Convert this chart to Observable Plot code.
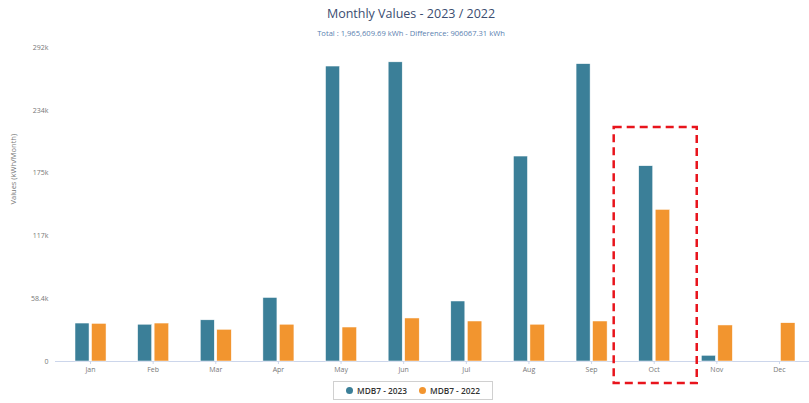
<!DOCTYPE html>
<html>
<head>
<meta charset="utf-8">
<script src="https://cdn.jsdelivr.net/npm/d3@7"></script>
<script src="https://cdn.jsdelivr.net/npm/@observablehq/plot@0.6"></script>
<style>
  body { margin: 0; background: #fff; font-family: "Open Sans", sans-serif; }
  #wrap { position: relative; width: 809px; height: 403px; overflow: hidden; }
  #title { position: absolute; top: 5px; left: 0; width: 809px; padding-left: 13px; box-sizing: border-box; text-align: center; font-size: 12.5px; color: #3b4d70; }
  #subtitle { position: absolute; top: 28px; left: 0; width: 809px; padding-left: 13px; box-sizing: border-box; text-align: center; font-size: 7.6px; color: #5b7fb0; }
  #chart { position: absolute; top: 40px; left: 0; }
  #legend { position: absolute; top: 381px; left: 333px; width: 158px; height: 17px; border: 1px solid #d0d0d0; display: flex; align-items: center; justify-content: center; gap: 12px; font-size: 8.3px; font-weight: 600; color: #333; background: #fff; }
  .item { display: flex; align-items: center; gap: 4px; }
  .dot { width: 7px; height: 7px; border-radius: 50%; display: inline-block; }
</style>
</head>
<body>
<div id="wrap">
  <div id="title">Monthly Values - 2023 / 2022</div>
  <div id="subtitle">Total : 1,965,609.69 kWh - Difference: 906067.31 kWh</div>
  <div id="chart"></div>
  <div id="legend"></div>
</div>
<script>
const months = ["Jan","Feb","Mar","Apr","May","Jun","Jul","Aug","Sep","Oct","Nov","Dec"];
const series = ["MDB7 - 2023", "MDB7 - 2022"];
const values2023 = [35300, 34200, 38300, 59100, 274300, 278200, 55800, 190600, 276500, 181600, 5300, 0];
const values2022 = [35000, 35300, 29500, 34200, 31600, 40000, 37200, 34200, 37200, 141000, 33500, 35600];
const yTicks = [0, 58400, 116800, 175200, 233600, 292000];
const yTickLabels = ["0", "58.4k", "117k", "175k", "234k", "292k"];
const highlightMonth = ["Oct"];
const highlightRange = [-20500, 217600];
const colors = ["#3b7f98", "#f2952f"];

const data2023 = months.map((m, i) => ({month: m, value: values2023[i]}));
const data2022 = months.map((m, i) => ({month: m, value: values2022[i]}));
const highlight = highlightMonth.map(m => ({month: m, y1: highlightRange[0], y2: highlightRange[1]}));

const chart = Plot.plot({
  width: 809,
  height: 345,
  marginTop: 7,
  marginBottom: 24,
  marginLeft: 55,
  marginRight: 0,
  style: {fontFamily: "Open Sans, sans-serif", fontSize: "7px", color: "#666", background: "transparent", overflow: "visible"},
  x: {domain: months, range: [58.7, 810.3], padding: 0, round: false, label: null},
  y: {domain: [0, 292000], label: null},
  marks: [
    Plot.gridY(yTicks, {stroke: "#e6e6e6", strokeOpacity: 1, x1: 55, x2: 809}),
    Plot.axisY(yTicks, {tickSize: 0, tickPadding: 7, tickFormat: (d) => yTickLabels[yTicks.indexOf(d)], fill: "#777", fontSize: 7, label: null}),
    Plot.text(["Values (kWh/Month)"], {frameAnchor: "left", dx: -42, rotate: -90, fill: "#777", fontSize: 7.5}),
    Plot.axisX({tickSize: 3, tickPadding: 3, stroke: "#ccd6eb", fill: "#777", fontSize: 7, label: null}),
    Plot.ruleY([0], {stroke: "#ccd6eb"}),
    Plot.barY(data2023, {x: "month", y: "value", fill: colors[0], stroke: "#fff", strokeWidth: 0.5, insetLeft: 16.3, insetRight: 32.3}),
    Plot.barY(data2022, {x: "month", y: "value", fill: colors[1], stroke: "#fff", strokeWidth: 0.5, insetLeft: 32.8, insetRight: 15.3}),
    Plot.barY(highlight, {x: "month", y1: "y1", y2: "y2", fill: "none", stroke: "#e8141c", strokeWidth: 2.5, strokeDasharray: "8,5", insetLeft: -8.7, insetRight: -11.7})
  ]
});
document.getElementById("chart").appendChild(chart);

const legend = document.getElementById("legend");
series.forEach((s, i) => {
  const item = document.createElement("span");
  item.className = "item";
  item.innerHTML = `<span class="dot" style="background:${colors[i]}"></span><span>${s}</span>`;
  legend.appendChild(item);
});
</script>
</body>
</html>
